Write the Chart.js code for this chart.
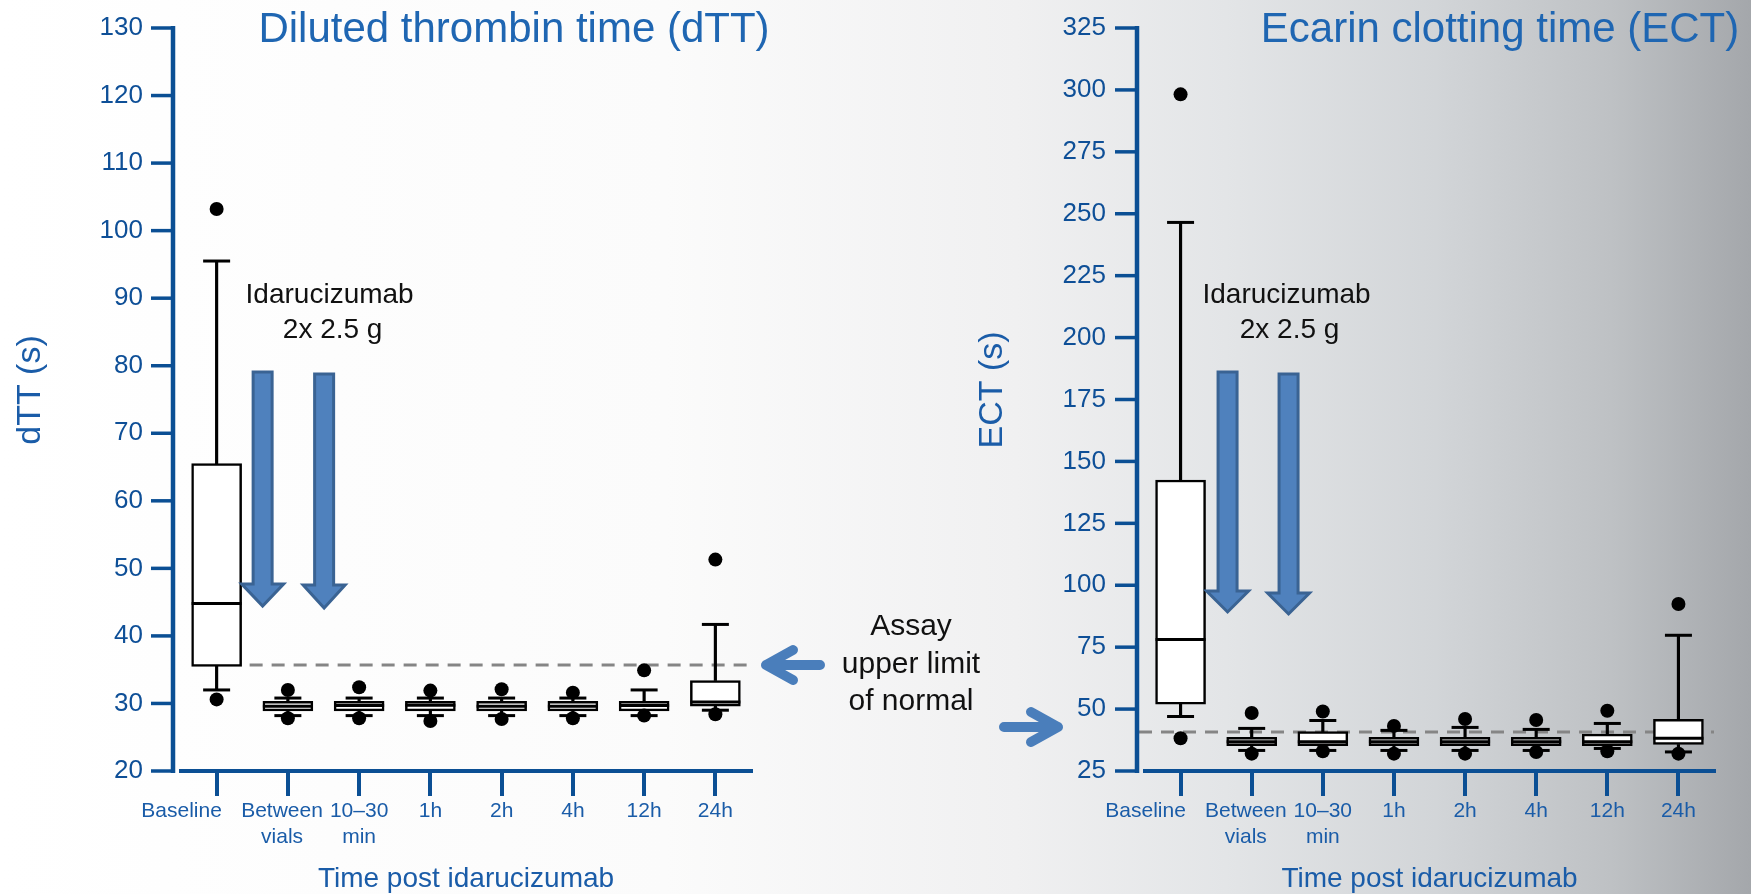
<!DOCTYPE html>
<html>
<head>
<meta charset="utf-8">
<title>dTT and ECT after idarucizumab</title>
<script src="https://cdn.jsdelivr.net/npm/chart.js@4.4.1/dist/chart.umd.min.js"></script>
<style>
  html, body { margin: 0; padding: 0; }
  body {
    width: 1751px; height: 894px; overflow: hidden; position: relative;
    background: linear-gradient(to right, #ffffff 0%, #fbfbfb 38%, #f0f0f1 58%, #e3e5e7 70%, #d2d5d8 82%, #bec1c4 92%, #a4a7ab 100%);
  }
  canvas { position: absolute; left: 0; top: 0; }
</style>
</head>
<body>
<canvas id="dttChart" width="1751" height="894"></canvas>
<canvas id="ectChart" width="1751" height="894"></canvas>
<script>
// categories (shared by both panels); trailing spaces nudge the wide labels left like the original
const categories = ['Baseline            ', ['Between  ', 'vials  '], ['10–30', 'min'], '1h', '2h', '4h', '12h', '24h'];

// dTT panel, seconds
const dttTicks = [20, 30, 40, 50, 60, 70, 80, 90, 100, 110, 120, 130];
const dttLow     = [32.0, 28.2, 28.2, 28.2, 28.2, 28.2, 28.2, 29.0];
const dttQ1      = [35.5, 28.9, 28.9, 28.9, 28.9, 28.9, 28.9, 29.6];
const dttMedian  = [44.8, 29.6, 29.7, 29.75, 29.6, 29.6, 29.7, 30.2];
const dttQ3      = [65.5, 30.3, 30.3, 30.3, 30.3, 30.3, 30.3, 33.4];
const dttHigh    = [95.5, 30.8, 30.8, 30.8, 30.8, 30.8, 32.0, 41.7];
const dttOutHigh = [103.2, 32.0, 32.4, 31.9, 32.1, 31.6, 34.9, 51.3];
const dttOutLow  = [30.6, 27.8, 27.8, 27.4, 27.7, 27.8, 28.2, 28.4];
const dttLimit = 35.7;

// ECT panel, seconds
const ectTicks = [25, 50, 75, 100, 125, 150, 175, 200, 225, 250, 275, 300, 325];
const ectLow     = [47.0, 33.3, 33.3, 33.3, 33.3, 33.3, 34.1, 32.7];
const ectQ1      = [52.0, 35.2, 35.2, 35.2, 35.2, 35.2, 35.2, 35.7];
const ectMedian  = [78.1, 36.8, 36.8, 36.8, 36.8, 36.8, 36.8, 38.2];
const ectQ3      = [142.5, 38.6, 40.9, 38.6, 38.6, 38.6, 39.9, 45.9];
const ectHigh    = [246.5, 42.2, 45.4, 41.4, 42.6, 41.8, 44.2, 79.8];
const ectOutHigh = [298.2, 48.4, 49.0, 43.2, 46.0, 45.6, 49.3, 92.4];
const ectOutLow  = [38.2, 32.0, 33.0, 32.0, 32.0, 32.7, 33.0, 32.0];
const ectLimit = 40.75;

// colours / fonts
const FONT = '"Liberation Sans", Arial, Helvetica, sans-serif';
const AXIS = '#0b4f94';
const TICK_TXT = '#0e4f97';
const TITLE_TXT = '#1f66b2';
const ARROW_FILL = '#4f81bd';
const ARROW_EDGE = '#3a6393';

Chart.defaults.font.family = FONT;

// one box plot = whiskers + box + caps + median + outliers, all plain datasets
function boxDatasets(lo, q1, med, q3, hi, outHi, outLo) {
  const marks = (data, style, radius, width, order) => ({
    type: 'line', data: data, showLine: false, order: order, clip: false,
    pointStyle: style, pointRadius: radius, pointHoverRadius: radius,
    pointBorderWidth: width, pointBorderColor: '#000', pointBackgroundColor: '#000'
  });
  return [
    { data: q3.map((v, i) => [v, hi[i]]), backgroundColor: '#000', barThickness: 2.5, grouped: false, order: 6 },
    { data: lo.map((v, i) => [v, q1[i]]), backgroundColor: '#000', barThickness: 2.5, grouped: false, order: 6 },
    { data: q1.map((v, i) => [v, q3[i]]), backgroundColor: '#fff', borderColor: '#000', borderWidth: 2.5,
      borderSkipped: false, barThickness: 50, grouped: false, order: 5 },
    marks(hi, 'line', 13.5, 3, 3),
    marks(lo, 'line', 13.5, 3, 3),
    marks(med, 'line', 25, 3, 2),
    marks(outHi, 'circle', 7, 0, 1),
    marks(outLo, 'circle', 7, 0, 1)
  ];
}

function downArrow(ctx, cx, top, neck, tip) {
  ctx.beginPath();
  ctx.moveTo(cx - 9.5, top);
  ctx.lineTo(cx + 9.5, top);
  ctx.lineTo(cx + 9.5, neck);
  ctx.lineTo(cx + 21, neck);
  ctx.lineTo(cx, tip);
  ctx.lineTo(cx - 21, neck);
  ctx.lineTo(cx - 9.5, neck);
  ctx.closePath();
  ctx.fillStyle = ARROW_FILL;
  ctx.fill();
  ctx.lineWidth = 3;
  ctx.strokeStyle = ARROW_EDGE;
  ctx.stroke();
}

function lineArrow(ctx, x1, x2, y) {
  // thick open arrow, head at x2
  const d = x2 > x1 ? 1 : -1;
  ctx.save();
  ctx.strokeStyle = '#4a7ebb';
  ctx.lineWidth = 10;
  ctx.lineCap = 'round';
  ctx.lineJoin = 'round';
  ctx.beginPath();
  ctx.moveTo(x1, y);
  ctx.lineTo(x2, y);
  ctx.moveTo(x2 - d * 27, y - 15);
  ctx.lineTo(x2, y);
  ctx.lineTo(x2 - d * 27, y + 15);
  ctx.stroke();
  ctx.restore();
}

// extra drawing: y axis line, dashed limit, titles, arrows, notes
function decor(look) {
  return {
    id: 'decor',
    beforeDatasetsDraw(chart) {
      const { ctx, chartArea, scales } = chart;
      const y = scales.y.getPixelForValue(look.limit);
      const x0 = look.dashFromAxis ? chartArea.left - 6 : scales.x.getPixelForValue(0) + 33;
      ctx.save();
      ctx.strokeStyle = '#858585';
      ctx.lineWidth = 3;
      ctx.setLineDash([13, 9]);
      ctx.beginPath();
      ctx.moveTo(x0, y);
      ctx.lineTo(chartArea.right, y);
      ctx.stroke();
      ctx.restore();
    },
    afterDraw(chart) {
      const { ctx, chartArea, scales } = chart;
      const ys = scales.y;
      const axisX = chartArea.left - 8;
      ctx.save();
      // y axis
      ctx.strokeStyle = AXIS;
      ctx.lineWidth = 4.5;
      ctx.beginPath();
      ctx.moveTo(axisX, ys.getPixelForValue(ys.max) - 2);
      ctx.lineTo(axisX, ys.getPixelForValue(ys.min) + 2);
      ctx.stroke();
      ctx.lineWidth = 3.5;
      ys.ticks.forEach(t => {
        const y = ys.getPixelForValue(t.value);
        ctx.beginPath();
        ctx.moveTo(axisX - 22, y);
        ctx.lineTo(axisX, y);
        ctx.stroke();
      });

      // panel title
      ctx.fillStyle = TITLE_TXT;
      ctx.font = '42px ' + FONT;
      ctx.textAlign = 'center';
      ctx.textBaseline = 'alphabetic';
      ctx.fillText(look.title, look.titleX, 42);

      // axis titles
      ctx.fillStyle = '#1a5ca8';
      ctx.font = '28px ' + FONT;
      ctx.fillText('Time post idarucizumab', (chartArea.left + chartArea.right) / 2, 887);
      ctx.save();
      ctx.translate(look.yTitleX, 390);
      ctx.rotate(-Math.PI / 2);
      ctx.font = '34px ' + FONT;
      ctx.textBaseline = 'middle';
      ctx.fillText(look.yTitle, 0, 0);
      ctx.restore();

      // dosing arrows and label
      const c0 = scales.x.getPixelForValue(0);
      look.arrows.forEach(a => downArrow(ctx, c0 + a.dx, a.top, a.neck, a.tip));
      ctx.fillStyle = '#111';
      ctx.font = '28px ' + FONT;
      ctx.textBaseline = 'alphabetic';
      ctx.fillText('Idarucizumab', c0 + look.noteDx, 303);
      ctx.fillText('2x 2.5 g', c0 + look.noteDx + 3, 338);

      if (look.showLimitNote) {
        ctx.font = '30px ' + FONT;
        ctx.fillText('Assay', 911, 635);
        ctx.fillText('upper limit', 911, 673);
        ctx.fillText('of normal', 911, 710);
        lineArrow(ctx, 820, 766, 665);
        lineArrow(ctx, 1004, 1058, 727);
      }
      ctx.restore();
    }
  };
}

function makeChart(id, series, ticks, look) {
  return new Chart(document.getElementById(id), {
    type: 'bar',
    data: { labels: categories, datasets: boxDatasets.apply(null, series) },
    options: {
      responsive: false,
      animation: false,
      devicePixelRatio: 1,
      events: [],
      layout: { padding: look.padding, autoPadding: false },
      plugins: { legend: { display: false }, tooltip: { enabled: false } },
      scales: {
        x: {
          offset: true,
          grid: { display: true, drawOnChartArea: false, drawTicks: true, tickLength: 25, offset: false, color: AXIS, lineWidth: 4 },
          border: { display: true, color: AXIS, width: 4 },
          ticks: { color: '#1a5ca8', font: { size: 21 }, padding: 3, maxRotation: 0, minRotation: 0, autoSkip: false },
          afterFit: sc => { sc.height = 123; }
        },
        y: {
          min: ticks[0],
          max: ticks[ticks.length - 1],
          grid: { display: false, drawTicks: false },
          border: { display: false },
          ticks: { stepSize: ticks[1] - ticks[0], color: TICK_TXT, font: { size: 26 }, padding: look.tickPad },
          afterFit: sc => { sc.width = look.left; sc.paddingTop = 0; sc.paddingBottom = 0; }
        }
      }
    },
    plugins: [decor(look)]
  });
}

makeChart('dttChart',
  [dttLow, dttQ1, dttMedian, dttQ3, dttHigh, dttOutHigh, dttOutLow], dttTicks,
  {
    left: 181, tickPad: 38, padding: { top: 28, right: 1000, bottom: 0, left: 0 },
    limit: dttLimit, dashFromAxis: false,
    title: 'Diluted thrombin time (dTT)', titleX: 514,
    yTitle: 'dTT (s)', yTitleX: 31,
    arrows: [{ dx: 46, top: 372, neck: 584, tip: 606 }, { dx: 107.5, top: 374, neck: 585, tip: 608 }],
    noteDx: 113, showLimitNote: true
  });

makeChart('ectChart',
  [ectLow, ectQ1, ectMedian, ectQ3, ectHigh, ectOutHigh, ectOutLow], ectTicks,
  {
    left: 1145, tickPad: 39, padding: { top: 28, right: 37, bottom: 0, left: 0 },
    limit: ectLimit, dashFromAxis: true,
    title: 'Ecarin clotting time (ECT)', titleX: 1500,
    yTitle: 'ECT (s)', yTitleX: 993,
    arrows: [{ dx: 47, top: 372, neck: 591, tip: 612 }, { dx: 108, top: 374, neck: 593, tip: 614 }],
    noteDx: 106, showLimitNote: false
  });
</script>
</body>
</html>
